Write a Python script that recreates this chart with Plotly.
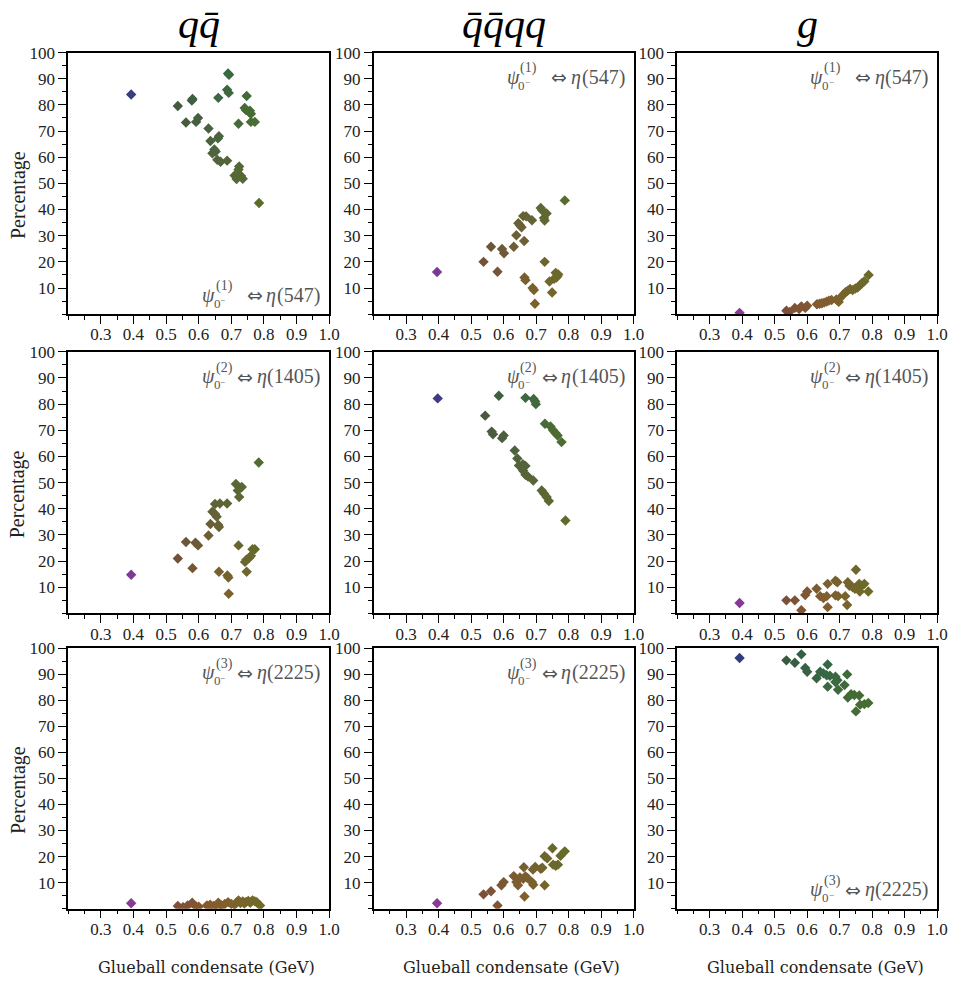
import numpy as np
import plotly.graph_objects as go

# ---------------------------------------------------------------------------
# Composition of the three lightest pseudoscalar states vs glueball condensate
# columns: q-qbar, qbar-qbar-q-q, glueball ; rows: eta(547), eta(1405), eta(2225)
# ---------------------------------------------------------------------------

# Row 1 : psi_0-^(1) <-> eta(547)
r1_qq_x = [0.393, 0.536, 0.561, 0.579, 0.581, 0.592, 0.598, 0.630, 0.636, 0.642, 0.648, 0.652, 0.660,
           0.659, 0.662, 0.657, 0.667, 0.687, 0.690, 0.693, 0.687, 0.692, 0.722, 0.747, 0.741, 0.745,
           0.755, 0.760, 0.757, 0.724, 0.722, 0.710, 0.716, 0.730, 0.735, 0.760, 0.772, 0.785]
r1_qq_y = [84.0, 79.6, 73.3, 81.7, 82.3, 73.5, 75.0, 71.0, 66.2, 61.5, 63.0, 62.2, 82.7,
           67.2, 68.0, 59.0, 58.3, 58.7, 92.0, 91.5, 85.8, 84.6, 72.8, 83.4, 78.8, 78.0,
           77.2, 76.6, 77.8, 56.5, 55.3, 53.0, 51.7, 52.8, 51.8, 73.5, 73.5, 42.5]

r1_4q_x = [0.395, 0.538, 0.561, 0.581, 0.595, 0.601, 0.631, 0.639, 0.645, 0.650, 0.655, 0.660, 0.669,
           0.663, 0.664, 0.667, 0.687, 0.689, 0.693, 0.696, 0.714, 0.719, 0.726, 0.724, 0.732, 0.726,
           0.741, 0.749, 0.755, 0.760, 0.765, 0.768, 0.762, 0.788]
r1_4q_y = [16.1, 20.0, 25.8, 16.2, 24.9, 23.3, 25.8, 30.2, 34.8, 34.0, 33.2, 37.5, 37.4,
           28.0, 14.0, 13.0, 35.9, 10.0, 9.2, 4.0, 40.6, 39.6, 35.8, 36.8, 38.5, 20.0,
           12.5, 8.3, 13.5, 15.8, 14.5, 15.2, 14.0, 43.5]

r1_g_x = [0.392, 0.536, 0.545, 0.562, 0.575, 0.582, 0.594, 0.600, 0.630, 0.638, 0.645, 0.652, 0.660,
          0.667, 0.675, 0.690, 0.697, 0.700, 0.712, 0.718, 0.725, 0.732, 0.740, 0.748, 0.755, 0.762,
          0.768, 0.776, 0.789]
r1_g_y = [0.5, 1.3, 0.8, 2.4, 2.0, 3.0, 2.4, 3.2, 3.8, 4.0, 4.2, 4.4, 4.8,
          5.2, 5.4, 5.6, 4.7, 6.0, 7.6, 8.4, 9.0, 9.6, 9.2, 9.8, 10.2, 11.0,
          11.8, 12.6, 15.0]

# Row 2 : psi_0-^(2) <-> eta(1405)
r2_qq_x = [0.393, 0.536, 0.561, 0.581, 0.590, 0.598, 0.630, 0.636, 0.642, 0.650, 0.655, 0.660, 0.662,
           0.650, 0.665, 0.662, 0.687, 0.688, 0.691, 0.692, 0.714, 0.720, 0.724, 0.732, 0.722, 0.742,
           0.746, 0.747, 0.755, 0.760, 0.765, 0.772, 0.784]
r2_qq_y = [14.8, 21.0, 27.3, 17.3, 27.0, 26.0, 29.8, 34.2, 38.9, 38.0, 37.0, 33.8, 33.0,
           41.8, 42.0, 15.9, 42.0, 14.5, 13.7, 7.5, 49.5, 47.0, 44.5, 48.3, 26.0, 19.7,
           20.5, 15.9, 21.3, 22.0, 24.5, 24.5, 57.7]

r2_4q_x = [0.397, 0.543, 0.563, 0.567, 0.585, 0.595, 0.600, 0.634, 0.642, 0.647, 0.659, 0.667, 0.660,
           0.667, 0.675, 0.667, 0.691, 0.692, 0.697, 0.699, 0.727, 0.744, 0.752, 0.759, 0.766, 0.778,
           0.717, 0.724, 0.732, 0.739, 0.790]
r2_4q_y = [82.2, 75.6, 69.5, 68.5, 83.2, 67.0, 68.0, 62.3, 59.2, 56.5, 57.0, 56.4, 54.5,
           53.0, 52.3, 82.4, 50.8, 82.0, 81.0, 80.0, 72.5, 71.5, 70.0, 69.0, 68.0, 65.5,
           47.0, 45.8, 44.5, 43.0, 35.5]

r2_g_x = [0.392, 0.536, 0.562, 0.582, 0.594, 0.600, 0.629, 0.640, 0.650, 0.660, 0.663, 0.663, 0.687,
          0.693, 0.687, 0.695, 0.717, 0.725, 0.730, 0.723, 0.740, 0.747, 0.750, 0.760, 0.768, 0.776,
          0.762, 0.788]
r2_g_y = [4.0, 5.0, 5.0, 1.2, 7.0, 8.4, 9.4, 6.6, 5.9, 6.6, 11.3, 2.4, 12.5,
          11.9, 6.9, 6.6, 6.6, 11.9, 10.6, 3.2, 10.0, 9.4, 16.7, 11.3, 10.6, 11.3,
          8.4, 8.4]

# Row 3 : psi_0-^(3) <-> eta(2225)
r3_qq_x = [0.393, 0.536, 0.552, 0.566, 0.580, 0.590, 0.600, 0.625, 0.635, 0.645, 0.655, 0.660, 0.665,
           0.670, 0.680, 0.690, 0.700, 0.710, 0.718, 0.722, 0.728, 0.735, 0.740, 0.745, 0.752, 0.758,
           0.765, 0.772, 0.778, 0.788]
r3_qq_y = [2.1, 1.0, 0.6, 1.2, 2.3, 1.0, 0.8, 1.2, 1.5, 1.0, 1.4, 2.3, 1.6,
           1.2, 1.8, 2.5, 1.8, 1.5, 2.6, 3.2, 2.2, 2.8, 2.0, 2.6, 3.0, 2.3,
           3.2, 2.8, 2.5, 1.2]

r3_4q_x = [0.395, 0.538, 0.561, 0.581, 0.593, 0.600, 0.631, 0.639, 0.644, 0.650, 0.660, 0.667, 0.673,
           0.662, 0.664, 0.687, 0.691, 0.690, 0.697, 0.714, 0.719, 0.726, 0.726, 0.734, 0.750, 0.752,
           0.760, 0.767, 0.775, 0.788]
r3_4q_y = [2.1, 5.5, 6.7, 1.2, 9.0, 10.2, 12.5, 10.2, 9.0, 12.0, 11.5, 12.4, 11.8,
           15.9, 4.7, 10.2, 9.2, 15.0, 16.0, 15.3, 15.7, 9.0, 20.1, 19.3, 23.2, 16.9,
           16.5, 16.9, 20.3, 22.0]

r3_g_x = [0.392, 0.536, 0.562, 0.582, 0.594, 0.600, 0.629, 0.640, 0.650, 0.660, 0.670, 0.663, 0.663,
          0.687, 0.693, 0.687, 0.695, 0.715, 0.723, 0.725, 0.735, 0.745, 0.750, 0.760, 0.763, 0.776,
          0.788]
r3_g_y = [96.2, 95.3, 94.4, 97.6, 92.4, 90.9, 88.4, 90.9, 90.3, 89.6, 89.4, 93.7, 85.2,
          89.0, 87.7, 87.0, 84.0, 85.8, 89.9, 81.0, 82.3, 82.0, 75.7, 81.8, 78.3, 78.5,
          78.9]

column_titles = ["qq\u0304", "q\u0304q\u0304qq", "g"]
state_index = ["1", "2", "3"]
eta_mass = ["547", "1405", "2225"]
x_tick_vals = [0.3, 0.4, 0.5, 0.6, 0.7, 0.8, 0.9, 1.0]
x_tick_text = ["0.3", "0.4", "0.5", "0.6", "0.7", "0.8", "0.9", "1.0"]
y_tick_vals = [10, 20, 30, 40, 50, 60, 70, 80, 90, 100]
y_tick_text = ["10", "20", "30", "40", "50", "60", "70", "80", "90", "100"]

panels = [
    [(r1_qq_x, r1_qq_y), (r1_4q_x, r1_4q_y), (r1_g_x, r1_g_y)],
    [(r2_qq_x, r2_qq_y), (r2_4q_x, r2_4q_y), (r2_g_x, r2_g_y)],
    [(r3_qq_x, r3_qq_y), (r3_4q_x, r3_4q_y), (r3_g_x, r3_g_y)],
]
# where the state label sits in each panel: 'top' or 'bottom'
label_place = [["bottom", "top", "top"], ["top", "top", "top"], ["top", "top", "bottom"]]

# ---------------------------------------------------------------------------
# marker colour: blend between a "low percentage" and a "high percentage" ramp
# ---------------------------------------------------------------------------
ramp_x = [0.4, 0.5, 0.65, 0.8]
ramp_low = np.array([(138, 58, 150), (125, 75, 60), (135, 92, 45), (112, 106, 40)], float)
ramp_high = np.array([(43, 61, 122), (55, 88, 60), (45, 104, 72), (60, 112, 50)], float)


def point_colors(xs, ys):
    out = []
    for x, y in zip(xs, ys):
        lo = [np.interp(x, ramp_x, ramp_low[:, k]) for k in range(3)]
        hi = [np.interp(x, ramp_x, ramp_high[:, k]) for k in range(3)]
        t = min(max(y / 100.0, 0.0), 1.0)
        c = [int(round(lo[k] * (1 - t) + hi[k] * t)) for k in range(3)]
        out.append(f"rgb({c[0]},{c[1]},{c[2]})")
    return out


W, H = 964, 982
col_px = [(69, 333), (378, 641), (685, 948)]
row_px = [(44, 308), (346, 610), (645, 908)]
PANEL = 264.0

SERIF = "Liberation Serif"
LAB_SIZE = 20
fig = go.Figure()
layout = dict(
    width=W, height=H, margin=dict(l=0, r=0, t=0, b=0),
    paper_bgcolor="white", plot_bgcolor="white", showlegend=False,
)
annotations = []

axis_common = dict(
    showgrid=False, zeroline=False, showline=True, mirror=True,
    linecolor="black", linewidth=1.5,
    ticks="outside", ticklen=8, tickwidth=1.2, tickcolor="black",
    tickfont=dict(family=SERIF, size=17, color="#222"),
)


def paren_width(s, size):
    # Times-metric advance of "(digits)": parentheses 0.333 em, digits 0.5 em
    return size * (2 * 0.333 + 0.5 * len(s))


for r in range(3):
    for c in range(3):
        k = r * 3 + c + 1
        xa = "xaxis" if k == 1 else f"xaxis{k}"
        ya = "yaxis" if k == 1 else f"yaxis{k}"
        xr = "x" if k == 1 else f"x{k}"
        yr = "y" if k == 1 else f"y{k}"
        x0, x1 = col_px[c]
        y0, y1 = row_px[r]
        layout[xa] = dict(
            axis_common, domain=[x0 / W, x1 / W], anchor=yr, range=[0.2, 1.0],
            tickmode="array", tickvals=x_tick_vals, ticktext=x_tick_text,
            ticklabelstandoff=-4,
            minor=dict(tickmode="linear", tick0=0.2, dtick=0.05, ticks="outside",
                       ticklen=4, tickwidth=1, tickcolor="black"),
        )
        layout[ya] = dict(
            axis_common, domain=[1 - y1 / H, 1 - y0 / H], anchor=xr, range=[0, 100],
            tickmode="array", tickvals=y_tick_vals, ticktext=y_tick_text,
            minor=dict(tickmode="linear", tick0=0, dtick=5, ticks="outside",
                       ticklen=4, tickwidth=1, tickcolor="black"),
        )

        xs, ys = panels[r][c]
        fig.add_trace(go.Scatter(
            x=xs, y=ys, mode="markers", xaxis=xr, yaxis=yr,
            marker=dict(symbol="diamond", size=8, color=point_colors(xs, ys),
                        line=dict(width=0)),
            hoverinfo="x+y",
        ))

        # state label  psi_{0-}^{(n)}  <=>  eta(mass), typeset from small pieces
        yc = 1 - 25 / PANEL if label_place[r][c] == "top" else 19 / PANEL
        grey = "#555"
        base = dict(xref=f"{xr} domain", yref=f"{yr} domain", y=yc, yanchor="middle",
                    showarrow=False, borderpad=0)
        right = 256.0
        w_mass = paren_width(eta_mass[r], LAB_SIZE)
        annotations.append(dict(base, x=134 / PANEL, xanchor="left", text="ψ",
                                font=dict(family=SERIF, size=LAB_SIZE, color=grey, style="italic")))
        annotations.append(dict(base, x=148 / PANEL, xanchor="left", yshift=9,
                                text=f"({state_index[r]})",
                                font=dict(family=SERIF, size=14, color=grey)))
        annotations.append(dict(base, x=146 / PANEL, xanchor="left", yshift=-8,
                                text="0", font=dict(family=SERIF, size=13, color=grey)))
        annotations.append(dict(base, x=153 / PANEL, xanchor="left", yshift=-5,
                                text="−", font=dict(family=SERIF, size=9, color=grey)))
        annotations.append(dict(base, x=right / PANEL, xanchor="right",
                                text=f"({eta_mass[r]})",
                                font=dict(family=SERIF, size=LAB_SIZE, color=grey)))
        annotations.append(dict(base, x=(right - w_mass - 1) / PANEL, xanchor="right",
                                text="η",
                                font=dict(family=SERIF, size=LAB_SIZE, color=grey, style="italic")))
        annotations.append(dict(base, x=(right - w_mass - 15) / PANEL, xanchor="right",
                                text="⇔",
                                font=dict(family="DejaVu Sans", size=LAB_SIZE - 1, color=grey)))

# column headings
for c in range(3):
    x0, x1 = col_px[c]
    annotations.append(dict(
        xref="paper", yref="paper", x=(x0 + x1) / 2 / W, y=1 - 15 / H,
        xanchor="center", yanchor="middle", showarrow=False,
        text=column_titles[c],
        font=dict(family=SERIF, size=42, color="black", style="italic"),
    ))
    # x-axis title under bottom row
    annotations.append(dict(
        xref="paper", yref="paper", x=((x0 + x1) / 2 + 8) / W, y=1 - 967 / H,
        xanchor="center", yanchor="middle", showarrow=False,
        text="Glueball condensate (GeV)", font=dict(family="DejaVu Serif", size=16, color="#222"),
    ))

# y-axis title on the left column
for r in range(3):
    y0, y1 = row_px[r]
    annotations.append(dict(
        xref="paper", yref="paper", x=18 / W, y=1 - ((y0 + y1) / 2 + 12) / H,
        xanchor="center", yanchor="middle", showarrow=False, textangle=-90,
        text="Percentage", font=dict(family=SERIF, size=20, color="#222"),
    ))

layout["annotations"] = annotations
fig.update_layout(**layout)
fig.write_html("out.html")
